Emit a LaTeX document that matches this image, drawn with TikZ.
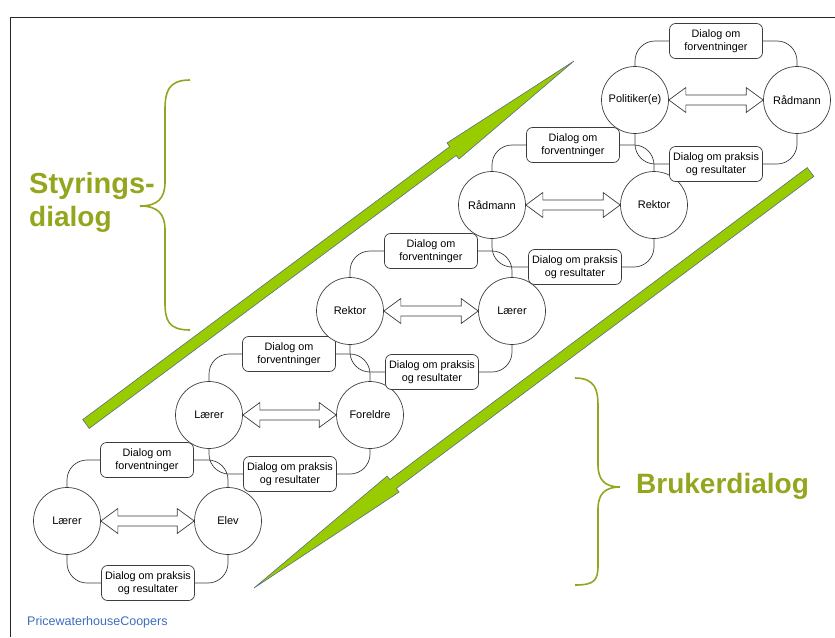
\documentclass[tikz,border=0pt]{standalone}
\usepackage{fontspec}
\setmainfont{Liberation Sans}
\usetikzlibrary{calc}
\definecolor{linegray}{RGB}{60,60,60}
\definecolor{arrowgreen}{RGB}{153,204,0}
\definecolor{arrowedge}{RGB}{90,110,130}
\definecolor{bracegreen}{RGB}{150,165,30}
\definecolor{footblue}{RGB}{60,110,190}
\newcommand\dblarr[2]{%
  \draw[darrow] let \p1=(#1.east), \p2=(#2.west) in
  (\x1,\y1) -- (\x1+17pt,\y1+12.5pt) -- (\x1+17pt,\y1+5pt) -- (\x2-17pt,\y2+5pt)
  -- (\x2-17pt,\y2+12.5pt) -- (\x2,\y2) -- (\x2-17pt,\y2-12.5pt) -- (\x2-17pt,\y2-5pt)
  -- (\x1+17pt,\y1-5pt) -- (\x1+17pt,\y1-12.5pt) -- cycle;}
\newcommand\greenarr[5]{% tail, tip, head fraction, half shaft, half head
  \coordinate (#1H) at ($(#1A)!#3!(#1B)$);
  \draw[garrow] ($(#1A)!#4!90:(#1B)$) -- ($(#1H)!#4!90:(#1B)$) -- ($(#1H)!#5!90:(#1B)$)
   -- (#1B) -- ($(#1H)!#5!-90:(#1B)$) -- ($(#1H)!#4!-90:(#1B)$) -- ($(#1A)!#4!-90:(#1B)$) -- cycle;}
\begin{document}
\begin{tikzpicture}[x=1pt,y=-1pt,
  circ/.style={circle,draw=linegray,line width=0.7pt,fill=white,minimum size=67pt,inner sep=0pt,font=\fontsize{11}{13}\selectfont},
  dbox/.style={rectangle,rounded corners=6pt,draw=linegray,line width=0.7pt,fill=white,minimum width=93pt,minimum height=35pt,inner sep=1pt,align=center,font=\fontsize{10.8}{13}\selectfont},
  conn/.style={draw=linegray,line width=0.7pt,rounded corners=20pt},
  darrow/.style={draw=linegray,line width=0.7pt,fill=white},
  garrow/.style={fill=arrowgreen,draw=arrowedge,line width=0.6pt,line join=miter},
  bigtext/.style={font=\fontsize{28}{32}\selectfont\bfseries,text=bracegreen,inner sep=0pt,anchor=west},
  bracestyle/.style={draw=bracegreen,line width=1.6pt}]
\useasboundingbox (0,0) rectangle (835,637);
% frame
\draw[line width=1pt,draw=black!85] (10,637) -- (10,17) -- (835,17);

% green arrows
\coordinate (upA) at (86,424);
\coordinate (upB) at (574,61);
\greenarr{up}{upB}{0.752}{5.5pt}{10pt}
\coordinate (dnA) at (810.5,172);
\coordinate (dnB) at (254,588);
\greenarr{dn}{dnB}{0.75}{5.5pt}{10pt}

% braces and labels
\draw[bracestyle] (190,80) .. controls (168,80) and (165,92) .. (165,110) -- (165,182)
  .. controls (165,198) and (158,206) .. (140,206) .. controls (158,206) and (165,214) .. (165,230)
  -- (165,302) .. controls (165,320) and (168,330) .. (190,330);
\draw[bracestyle] (575,378) .. controls (595,378) and (598,390) .. (598,405) -- (598,465)
  .. controls (598,480) and (605,487) .. (620,487) .. controls (605,487) and (598,494) .. (598,509)
  -- (598,565) .. controls (598,580) and (595,585) .. (575,585);
\node[bigtext,font=\fontsize{29}{32}\selectfont\bfseries] (sty1) at (29,186) {Styrings-};
\node[bigtext] (sty2) at (29,219) {dialog};
\node[bigtext] (bruk) at (636,486) {Brukerdialog};
\node[anchor=west,text=footblue,font=\fontsize{12.5}{14}\selectfont,inner sep=0pt] (pwc) at (27,622) {PricewaterhouseCoopers};

% groups
\foreach \g/\lx/\rx/\cy/\tx/\ty/\bx/\by/\ln/\rn in {
  1/67/228/521/147/460/148/583/Lærer/Elev,
  2/209/370/415/289/354/290/474/Lærer/Foreldre,
  3/350/512/311/431/251/432/372/Rektor/Lærer,
  4/492/654/205/573/145/575/267/Rådmann/Rektor,
  5/635/797/100/716/41/716/164/Politiker(e)/Rådmann}{
  \node[circ] (L\g) at (\lx,\cy) {\ln};
  \node[circ] (R\g) at (\rx,\cy) {\rn};
  \node[dbox] (T\g) at (\tx,\ty) {Dialog om\\forventninger};
  \node[dbox] (B\g) at (\bx,\by) {Dialog om praksis\\og resultater};
  \draw[conn] (L\g.north) |- (T\g.west);
  \draw[conn] (T\g.east) -| (R\g.north);
  \draw[conn] (L\g.south) |- (B\g.west);
  \draw[conn] (B\g.east) -| (R\g.south);
  \dblarr{L\g}{R\g}
}
\end{tikzpicture}
\end{document}
